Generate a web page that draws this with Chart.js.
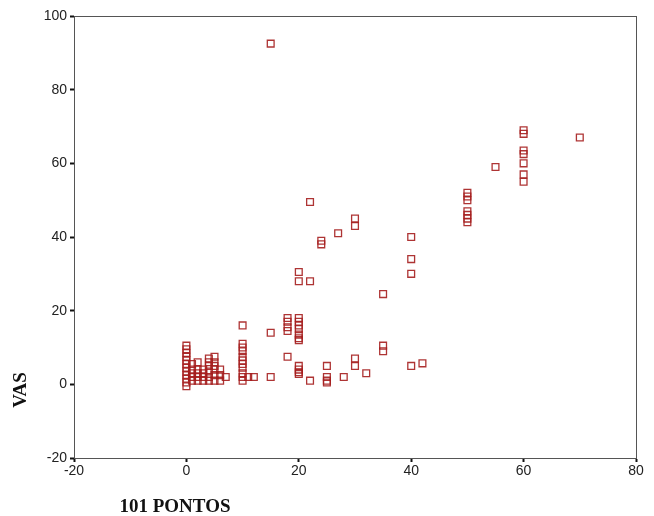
<!DOCTYPE html>
<html>
<head>
<meta charset="utf-8">
<script src="https://cdn.jsdelivr.net/npm/chart.js@4"></script>
<style>
  html, body { margin: 0; padding: 0; background: #fff; }
  #wrap { width: 654px; height: 516px; }
</style>
</head>
<body>
<div id="wrap"><canvas id="scatter" width="654" height="516"></canvas></div>
<script>
/* ── Data: x = 101 PONTOS, y = VAS ─────────────────────── */
const pontos = [
  0, 0, 0, 0, 0, 0, 0, 0, 0, 0, 0, 0,
  1, 1, 1, 1, 1,
  2, 2, 2, 2, 2,
  3, 3, 3, 3,
  4, 4, 4, 4, 4, 4,
  5, 5, 5, 5, 5, 5,
  6, 6, 6,
  7,
  10, 10, 10, 10, 10, 10, 10, 10, 10, 10, 10,
  11, 12,
  15, 15, 15,
  18, 18, 18, 18, 18,
  20, 20, 20, 20, 20, 20, 20, 20, 20, 20, 20, 20, 20,
  22, 22, 22,
  24, 24,
  25, 25, 25, 25,
  27, 28,
  30, 30, 30, 30,
  32,
  35, 35, 35,
  40, 40, 40, 40,
  42,
  50, 50, 50, 50, 50, 50, 50,
  55,
  60, 60, 60, 60, 60, 60, 60,
  70
];
const vas = [
  10.5, 9.5, 8.5, 7.5, 6.5, 5.5, 4.5, 3.5, 2.5, 1.5, 0.5, -0.5,
  5.5, 4, 3, 2, 1,
  6, 4, 3, 2, 1,
  4, 3, 2, 1,
  7, 6, 5, 3.5, 2, 1,
  7.5, 6, 5, 4, 2.5, 1,
  4, 2.5, 1,
  2,
  16, 11, 10, 9, 7.5, 6.5, 5.5, 4.5, 3, 2, 1,
  2, 2,
  92.5, 14, 2,
  18, 17, 15.5, 14.5, 7.5,
  30.5, 28, 18, 17, 16, 15, 13.5, 12.5, 12, 5, 4, 3.3, 2.8,
  49.5, 28, 1,
  39, 38,
  5, 2, 1, 0.5,
  41, 2,
  45, 43, 7, 5,
  3,
  24.5, 10.5, 9,
  40, 34, 30, 5,
  5.7,
  52, 51, 50, 47, 46, 45, 44,
  59,
  69, 68, 63.5, 62.5, 60, 57, 55,
  67
];
const xTicks = [-20, 0, 20, 40, 60, 80];
const yTicks = [-20, 0, 20, 40, 60, 80, 100];
const xTitle = '101 PONTOS';
const yTitle = 'VAS';

const points = pontos.map((x, i) => ({ x, y: vas[i] }));

/* frame + axis titles drawn on top */
const framePlugin = {
  id: 'frame',
  afterDraw(chart) {
    const { ctx, chartArea: a } = chart;
    ctx.save();
    ctx.strokeStyle = '#555';
    ctx.lineWidth = 1;
    ctx.strokeRect(a.left + 0.5, a.top + 0.5, a.right - a.left, a.bottom - a.top);
    ctx.fillStyle = '#111';
    ctx.font = 'bold 19px "Liberation Serif", serif';
    ctx.textAlign = 'center';
    ctx.textBaseline = 'middle';
    ctx.fillText(xTitle, a.left + 101, a.bottom + 49);
    ctx.translate(a.left - 53, a.bottom - 68);
    ctx.rotate(-Math.PI / 2);
    ctx.fillText(yTitle, 0, 0);
    ctx.restore();
  }
};

const tickFont = { family: '"Liberation Sans", Arial, sans-serif', size: 14 };

new Chart(document.getElementById('scatter'), {
  type: 'scatter',
  data: {
    datasets: [{
      data: points,
      pointStyle: 'rect',
      pointRadius: 4.8,
      pointHoverRadius: 4.8,
      borderWidth: 1.3,
      borderColor: 'rgba(165,30,30,0.9)',
      backgroundColor: 'rgba(255,255,255,0)'
    }]
  },
  options: {
    responsive: false,
    animation: false,
    layout: { padding: { left: 0, right: 18, top: 16, bottom: 0 } },
    plugins: { legend: { display: false }, tooltip: { enabled: false } },
    scales: {
      x: {
        type: 'linear',
        min: xTicks[0], max: xTicks[xTicks.length - 1],
        afterBuildTicks: s => { s.ticks = xTicks.map(v => ({ value: v })); },
        afterFit: s => { s.height = 58; },
        border: { display: true, color: '#555', width: 1 },
        grid: { drawOnChartArea: false, drawTicks: true, tickLength: 4, tickWidth: 2, tickColor: '#111' },
        ticks: { color: '#222', font: tickFont, padding: 1, maxRotation: 0 }
      },
      y: {
        type: 'linear',
        min: yTicks[0], max: yTicks[yTicks.length - 1],
        afterBuildTicks: s => { s.ticks = yTicks.map(v => ({ value: v })); },
        afterFit: s => { s.width = 74; },
        border: { display: true, color: '#555', width: 1 },
        grid: { drawOnChartArea: false, drawTicks: true, tickLength: 4, tickWidth: 2, tickColor: '#111' },
        ticks: { color: '#222', font: tickFont, padding: 3 }
      }
    }
  },
  plugins: [framePlugin]
});
</script>
</body>
</html>
